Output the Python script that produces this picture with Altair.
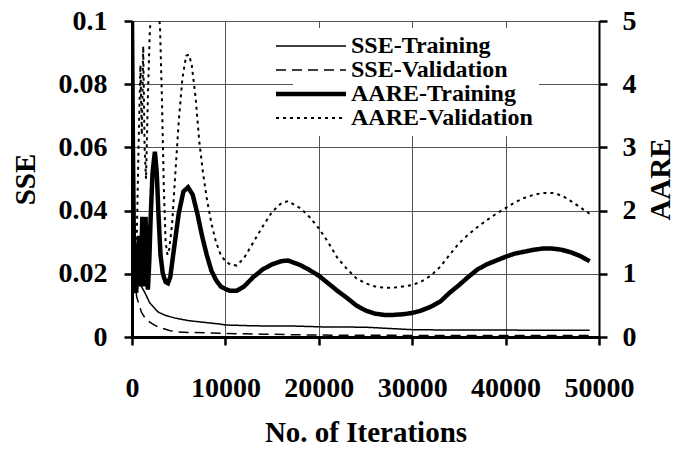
import altair as alt
import pandas as pd

# ---- data ----
sse_tr_x = [0, 100, 200, 300, 500, 800, 1100, 1400, 1900, 2800, 3600, 4600, 6000, 7500, 9400, 10000,
            12300, 14000, 17000, 20300, 25000, 30100, 35000, 40000, 45000, 49000]
sse_tr_y = [0.1, 0.06, 0.035, 0.024, 0.019, 0.017, 0.0155, 0.0139, 0.0108, 0.0079, 0.0068, 0.006, 0.0052,
            0.0047, 0.0041, 0.0038, 0.0036, 0.0035, 0.0035, 0.0032, 0.0031, 0.0023, 0.0022, 0.0022, 0.0021, 0.0021]

sse_va_x = [0, 100, 200, 300, 500, 1000, 1400, 1900, 2500, 3200, 4100, 5000, 6500, 8100, 10000,
            14000, 20000, 30000, 40000, 49000]
sse_va_y = [0.1, 0.045, 0.025, 0.018, 0.0127, 0.0079, 0.006, 0.0047, 0.0036, 0.0028, 0.002, 0.0016, 0.0014,
            0.0013, 0.0011, 0.0009, 0.0006, 0.0005, 0.0005, 0.0005]

aare_tr_x = [0, 100, 200, 300, 450, 600, 750, 850, 950, 1100, 1250, 1350, 1450, 1600, 1700, 1850, 2000,
             2200, 2450, 2650, 2850, 3050, 3300, 3600, 3850, 4100, 4500, 5000, 5500, 6000, 6500, 7000, 7500,
             8000, 8500, 9000, 9500, 10000, 10500, 11200, 12000, 13000, 14000, 15000, 16000, 16700, 18000,
             19000, 20000, 21000, 22000, 23000, 24000, 25000, 26000, 27000, 28000, 29000, 30000, 31000, 32000,
             33000, 34000, 35000, 36000, 37000, 38000, 39000, 40000, 41000, 42000, 43000, 44000, 45000, 46000,
             47000, 48000, 49000]
aare_tr_y = [5.0, 3.0, 1.5, 0.8, 0.7, 1.2, 1.6, 1.0, 0.8, 1.9, 1.2, 0.8, 1.9, 1.2, 0.75, 1.2, 1.9,
             2.6, 2.93, 2.6, 1.9, 1.3, 1.0, 0.87, 0.85, 0.95, 1.4, 1.95, 2.3, 2.37, 2.25, 1.95, 1.6,
             1.3, 1.05, 0.9, 0.8, 0.76, 0.73, 0.73, 0.8, 0.95, 1.07, 1.15, 1.2, 1.21, 1.14,
             1.06, 0.97, 0.85, 0.73, 0.62, 0.5, 0.42, 0.37, 0.35, 0.35, 0.36, 0.38, 0.42, 0.48,
             0.56, 0.7, 0.82, 0.95, 1.07, 1.15, 1.21, 1.27, 1.32, 1.35, 1.38, 1.4, 1.4, 1.38,
             1.34, 1.28, 1.2]

aare_va_x = [0, 100, 200, 350, 500, 700, 900, 1050, 1200, 1350, 1500, 1700, 1900, 2100, 2400, 2700, 3000,
             3200, 3400, 3600, 3800, 4000, 4300, 4600, 5000, 5400, 5800, 6100, 6400, 6800, 7200, 7600, 8000,
             8500, 9000, 9500, 10000, 10500, 11200, 12000, 13000, 14000, 15000, 16000, 16700, 18000, 19000,
             20000, 21000, 22000, 23000, 24000, 25000, 26000, 27000, 28000, 29000, 30000, 31000, 32000, 33000,
             34000, 35000, 36000, 37000, 38000, 39000, 40000, 41000, 42000, 43000, 44000, 45000, 46000, 47000,
             48000, 49000]
aare_va_y = [5.0, 3.5, 2.0, 1.0, 1.5, 3.0, 4.3, 3.2, 4.6, 3.0, 2.5, 3.8, 4.8, 5.3, 5.6, 5.4, 4.9,
             3.8, 2.4, 1.5, 1.3, 1.4, 1.8, 2.5, 3.4, 4.1, 4.45, 4.47, 4.3, 3.8, 3.1, 2.6, 2.2,
             1.8, 1.5, 1.3, 1.2, 1.15, 1.13, 1.25, 1.5, 1.75, 1.98, 2.12, 2.15, 2.04, 1.9,
             1.72, 1.5, 1.25, 1.08, 0.93, 0.85, 0.8, 0.78, 0.78, 0.8, 0.82, 0.88, 0.97, 1.11,
             1.3, 1.48, 1.62, 1.74, 1.85, 1.95, 2.04, 2.13, 2.2, 2.25, 2.28, 2.28, 2.24, 2.15,
             2.05, 1.95]

series_names = ["SSE-Training", "SSE-Validation", "AARE-Training", "AARE-Validation"]
x_ticks = [0, 10000, 20000, 30000, 40000, 50000]
sse_ticks = [0, 0.02, 0.04, 0.06, 0.08, 0.1]
aare_ticks = [0, 1, 2, 3, 4, 5]

sse_df = pd.concat([
    pd.DataFrame({"it": sse_tr_x, "v": sse_tr_y, "series": series_names[0], "o": range(len(sse_tr_x))}),
    pd.DataFrame({"it": sse_va_x, "v": sse_va_y, "series": series_names[1], "o": range(len(sse_va_x))}),
])
aare_df = pd.concat([
    pd.DataFrame({"it": aare_tr_x, "v": aare_tr_y, "series": series_names[2], "o": range(len(aare_tr_x))}),
    pd.DataFrame({"it": aare_va_x, "v": aare_va_y, "series": series_names[3], "o": range(len(aare_va_x))}),
])

FONT = "Liberation Serif"

dash_scale = alt.Scale(domain=series_names, range=[[1, 0], [10, 6], [1, 0], [3, 4]])
width_scale = alt.Scale(type="ordinal", domain=series_names, range=[1.5, 1.5, 4.5, 2])

legend = alt.Legend(
    title=None, orient="none", legendX=161, legendY=7,
    symbolType="M-7,0H7", symbolSize=100, symbolStrokeColor="black",
    labelFont=FONT, labelFontSize=24, labelFontWeight="bold", labelColor="black",
    labelOffset=28, rowPadding=-4, fillColor="white", padding=6, labelLimit=300,
)

x_enc = alt.X("it:Q", scale=alt.Scale(domain=[0, 50000], nice=False),
              axis=alt.Axis(values=x_ticks, format="d", title="No. of Iterations",
                            grid=True, labelPadding=29, titlePadding=16, labelOverlap=False,
                            labelFlush=False))

sse_layer = alt.Chart(sse_df).mark_line(color="black", clip=True).encode(
    x=x_enc,
    y=alt.Y("v:Q", scale=alt.Scale(domain=[0, 0.1], nice=False),
            axis=alt.Axis(values=sse_ticks, format="~g", title="SSE", orient="left",
                          grid=True, labelPadding=17, titlePadding=18, domainWidth=3,
                          labelOverlap=False)),
    strokeDash=alt.StrokeDash("series:N", scale=dash_scale, legend=legend),
    strokeWidth=alt.StrokeWidth("series:N", scale=width_scale, legend=legend),
    detail="series:N",
    order="o:Q",
)

aare_layer = alt.Chart(aare_df).mark_line(color="black", clip=True).encode(
    x=x_enc,
    y=alt.Y("v:Q", scale=alt.Scale(domain=[0, 5], nice=False),
            axis=alt.Axis(values=aare_ticks, format="d", title="AARE", orient="right",
                          grid=False, labelPadding=15, titlePadding=10, titleAngle=270,
                          titleBaseline="top", domainWidth=2, labelOverlap=False)),
    strokeDash=alt.StrokeDash("series:N", scale=dash_scale, legend=legend),
    strokeWidth=alt.StrokeWidth("series:N", scale=width_scale, legend=legend),
    detail="series:N",
    order="o:Q",
)

chart = alt.layer(sse_layer, aare_layer).resolve_scale(y="independent").properties(
    width=467, height=316,
    autosize=alt.AutoSizeParams(type="none"),
    padding={"left": 124, "top": 13, "right": 73, "bottom": 110},
).configure_view(stroke=None).configure_axis(
    labelFont=FONT, labelFontSize=28, labelFontWeight="bold", labelColor="black",
    titleFont=FONT, titleFontSize=29, titleFontWeight="bold", titleColor="black",
    domainColor="black", domainWidth=3, tickColor="black", tickWidth=2.5, tickSize=8,
    gridColor="#555555", gridWidth=1, gridOpacity=1,
)

chart.save("out.html", embed_options={"renderer": "svg", "actions": False})
